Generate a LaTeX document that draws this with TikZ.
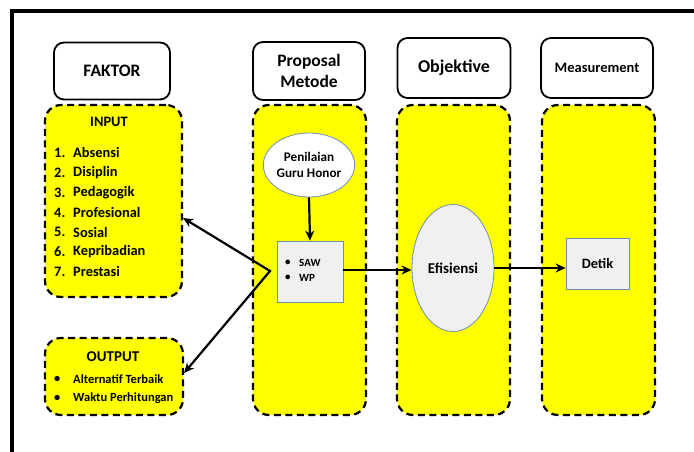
\documentclass[tikz,border=0pt]{standalone}
\usepackage{fontspec}
\setmainfont{Carlito}
\usetikzlibrary{shapes.geometric,arrows.meta,calc}
\definecolor{yel}{HTML}{FFFF00}
\definecolor{lgray}{HTML}{F0F0F0}
\definecolor{edgeblue}{HTML}{6E8FB5}
\tikzset{
  header/.style={draw=black, line width=1.8pt, rounded corners=10pt, fill=white, align=center, inner sep=0pt, font=\bfseries},
  dbox/.style={draw=black, line width=2.2pt, dash pattern=on 7pt off 4.5pt, rounded corners=16pt, fill=yel, inner sep=0pt},
  gbox/.style={draw=edgeblue, line width=0.8pt, fill=lgray, inner sep=0pt},
  gell/.style={ellipse, draw=edgeblue, line width=0.8pt, fill=lgray, inner sep=0pt, align=center, font=\bfseries},
  conn/.style={line width=2.2pt, -{Stealth[length=10pt,width=9pt]}},
  lbl/.style={font=\bfseries, inner sep=0pt, anchor=west},
}
\begin{document}
\begin{tikzpicture}[x=1pt,y=-1pt]
\useasboundingbox (0,0) rectangle (694,452);
% frame
\draw[line width=4pt] (10,11) -- (694,11);
\draw[line width=4pt] (12,9) -- (12,452);
% headers
\node[header, minimum width=116pt, minimum height=57pt, font=\bfseries\fontsize{17.5}{19}\selectfont] (faktor) at (112,71) {FAKTOR};
\node[header, minimum width=112pt, minimum height=58pt, font=\bfseries\fontsize{17.5}{21}\selectfont] (proposal) at (309,71) {Proposal\\Metode};
\node[header, minimum width=113pt, minimum height=60pt, font=\bfseries\fontsize{18}{20}\selectfont] (objektive) at (454,68) {Objektive};
\node[header, minimum width=112pt, minimum height=60pt, font=\bfseries\fontsize{14.5}{16}\selectfont] (measure) at (597,68) {Measurement};
% dashed columns
\node[dbox, minimum width=137pt, minimum height=192pt] (input) at (113.5,201) {};
\node[dbox, minimum width=138pt, minimum height=77pt] (output) at (114,376.5) {};
\node[dbox, minimum width=113pt, minimum height=310pt] (propcol) at (309.5,260) {};
\node[dbox, minimum width=113pt, minimum height=310pt] (objcol) at (453.5,260) {};
\node[dbox, minimum width=113pt, minimum height=310pt] (meascol) at (598.5,260) {};
% input text
\node[font=\bfseries\fontsize{14.4}{16}\selectfont, inner sep=0pt] (inputtitle) at (109,122) {INPUT};
\foreach \i/\t in {1/Absensi,2/Disiplin,3/Pedagogik,4/Profesional,5/Sosial,6/Kepribadian,7/Prestasi}{
  \node[lbl, font=\bfseries\fontsize{14.4}{16}\selectfont] (num\i) at (54,{153+19.8*(\i-1)}) {\i.};
  \node[lbl, font=\bfseries\fontsize{14.4}{16}\selectfont] (item\i) at (73,{153+19.8*(\i-1)}) {\t};
}
% output text
\node[font=\bfseries\fontsize{15}{17}\selectfont, inner sep=0pt] (outputtitle) at (113,357) {OUTPUT};
\node[lbl, font=\bfseries\fontsize{12.5}{14}\selectfont] (ob1) at (54,379) {\textbullet};
\node[lbl, font=\bfseries\fontsize{12.5}{14}\selectfont] (oi1) at (73,379) {Alternatif Terbaik};
\node[lbl, font=\bfseries\fontsize{12.5}{14}\selectfont] (ob2) at (54,398) {\textbullet};
\node[lbl, font=\bfseries\fontsize{12.5}{14}\selectfont] (oi2) at (73,398) {Waktu Perhitungan};
% proposal contents
\node[gell, fill=white, minimum width=82pt, minimum height=64pt, font=\bfseries\fontsize{13.2}{16.5}\selectfont] (penilaian) at (309,165) {Penilaian\\Guru Honor};
\node[gbox, minimum width=66pt, minimum height=61pt] (saw) at (310,271.5) {};
\node[lbl, font=\bfseries\fontsize{11}{13}\selectfont] (sb1) at (285,263) {\textbullet};
\node[lbl, font=\bfseries\fontsize{11}{13}\selectfont] (st1) at (299,263) {SAW};
\node[lbl, font=\bfseries\fontsize{11}{13}\selectfont] (sb2) at (285,278) {\textbullet};
\node[lbl, font=\bfseries\fontsize{11}{13}\selectfont] (st2) at (299,278) {WP};
% objective / measurement
\node[gell, minimum width=82pt, minimum height=127pt, font=\bfseries\fontsize{15}{17}\selectfont] (efisiensi) at (453,268) {Efisiensi};
\node[gbox, minimum width=63pt, minimum height=51pt, font=\bfseries\fontsize{14.3}{16}\selectfont] (detik) at (597.5,263.5) {Detik};
% connectors
\coordinate (v) at (270,271);
\draw[conn] (penilaian.south) -- (saw.north);
\draw[conn] (saw.east |- 0,270) -- (efisiensi.west |- 0,270);
\draw[conn] (efisiensi.east |- 0,268) -- (detik.west |- 0,268);
\draw[line width=2.2pt, {Stealth[length=10pt,width=9pt]}-{Stealth[length=10pt,width=9pt]}, line join=miter]
  (input.east |- 0,218) -- (v) -- (output.east |- 0,373);
\end{tikzpicture}
\end{document}
